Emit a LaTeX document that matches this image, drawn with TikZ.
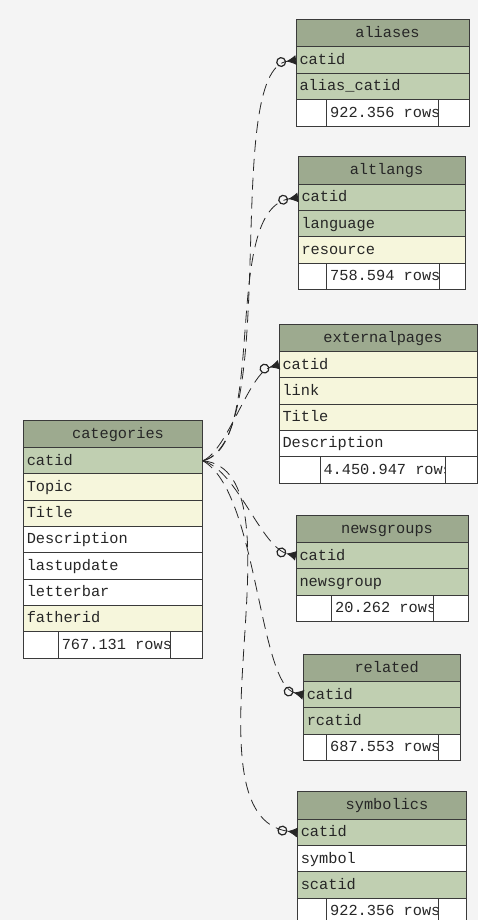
\documentclass[tikz,border=0pt]{standalone}
\usepackage{fontspec}
\newfontfamily\tabfont{Liberation Mono}
\usetikzlibrary{positioning,arrows.meta}

\definecolor{paper}{HTML}{F4F4F4}
\definecolor{headcol}{HTML}{9DAA8F}
\definecolor{keycol}{HTML}{C0CFB1}
\definecolor{txtcol}{HTML}{F6F6DC}
\definecolor{frame}{HTML}{3A3A3A}

\tikzset{
	cell/.style={draw=frame, line width=0.9pt, outer sep=0pt, inner xsep=3.5pt, inner ysep=0pt,
		text height=11pt, text depth=2.5pt, text=black!85,
		font=\tabfont\fontsize{15.3pt}{18pt}\selectfont, execute at begin node={\spaceskip=0.6em\relax}},
	head/.style={cell, fill=headcol, minimum height=27.6pt, align=center, execute at begin node={\hspace*{10pt}}},
	keyfld/.style={cell, fill=keycol, minimum height=26.3pt, align=left},
	txtfld/.style={cell, fill=txtcol, minimum height=26.3pt, align=left},
	plainfld/.style={cell, fill=white, minimum height=26.3pt, align=left},
	foot/.style={cell, fill=white, minimum height=26.6pt},
	count/.style 2 args={cell, fill=white, minimum height=26.6pt, text width=#1,
		path picture={\node[cell, draw=none, fill=none, anchor=west, text width=150pt]
			at (path picture bounding box.west) {#2};}},
	rel/.style={dash pattern=on 12pt off 7pt, line width=0.8pt, draw=black!85,
		-{Circle[open, length=10pt, width=10pt, line width=1.2pt] Latex[reversed, length=10pt, width=10pt]}},
}

\begin{document}
\begin{tikzpicture}[x=1pt, y=-1pt]
	\fill[paper] (0,0) rectangle (478,920);
	\useasboundingbox (0,0) rectangle (478,920);

	\begin{scope}[every node/.append style={text width=166pt}]
		\node[head, anchor=north west] (aliases) at (296,19.3) {aliases};
		\node[keyfld, below=0pt of aliases] (aliases-catid) {catid};
		\node[keyfld, below=0pt of aliases-catid] (aliases-aliascatid) {alias\_catid};
		\node[foot, below=0pt of aliases-aliascatid] (aliases-foot) {};
		\node[count={104.3pt}{922.356 rows}, anchor=north west] (aliases-count) at ([xshift=30.7pt]aliases-foot.north west) {};
	\end{scope}

	\begin{scope}[every node/.append style={text width=160pt}]
		\node[head, anchor=north west] (altlangs) at (298,156.7) {altlangs};
		\node[keyfld, below=0pt of altlangs] (altlangs-catid) {catid};
		\node[keyfld, below=0pt of altlangs-catid] (altlangs-language) {language};
		\node[txtfld, below=0pt of altlangs-language] (altlangs-resource) {resource};
		\node[foot, below=0pt of altlangs-resource] (altlangs-foot) {};
		\node[count={105.3pt}{758.594 rows}, anchor=north west] (altlangs-count) at ([xshift=28.7pt]altlangs-foot.north west) {};
	\end{scope}

	\begin{scope}[every node/.append style={text width=191pt}]
		\node[head, anchor=north west] (externalpages) at (279,324) {externalpages};
		\node[txtfld, below=0pt of externalpages] (externalpages-catid) {catid};
		\node[txtfld, below=0pt of externalpages-catid] (externalpages-link) {link};
		\node[txtfld, below=0pt of externalpages-link] (externalpages-title) {Title};
		\node[plainfld, below=0pt of externalpages-title] (externalpages-description) {Description};
		\node[foot, below=0pt of externalpages-description] (externalpages-foot) {};
		\node[count={118.7pt}{4.450.947 rows}, anchor=north west] (externalpages-count) at ([xshift=41pt]externalpages-foot.north west) {};
	\end{scope}

	\begin{scope}[every node/.append style={text width=172.4pt}]
		\node[head, anchor=north west] (categories) at (23.3,420) {categories};
		\node[keyfld, below=0pt of categories] (categories-catid) {catid};
		\node[txtfld, below=0pt of categories-catid] (categories-topic) {Topic};
		\node[txtfld, below=0pt of categories-topic] (categories-title) {Title};
		\node[plainfld, below=0pt of categories-title] (categories-description) {Description};
		\node[plainfld, below=0pt of categories-description] (categories-lastupdate) {lastupdate};
		\node[plainfld, below=0pt of categories-lastupdate] (categories-letterbar) {letterbar};
		\node[txtfld, below=0pt of categories-letterbar] (categories-fatherid) {fatherid};
		\node[foot, below=0pt of categories-fatherid] (categories-foot) {};
		\node[count={105.4pt}{767.131 rows}, anchor=north west] (categories-count) at ([xshift=35pt]categories-foot.north west) {};
	\end{scope}

	\begin{scope}[every node/.append style={text width=165pt}]
		\node[head, anchor=north west] (newsgroups) at (296,515) {newsgroups};
		\node[keyfld, below=0pt of newsgroups] (newsgroups-catid) {catid};
		\node[keyfld, below=0pt of newsgroups-catid] (newsgroups-newsgroup) {newsgroup};
		\node[foot, below=0pt of newsgroups-newsgroup] (newsgroups-foot) {};
		\node[count={94.3pt}{20.262 rows}, anchor=north west] (newsgroups-count) at ([xshift=35.7pt]newsgroups-foot.north west) {};
	\end{scope}

	\begin{scope}[every node/.append style={text width=149.7pt}]
		\node[head, anchor=north west] (related) at (303.3,654) {related};
		\node[keyfld, below=0pt of related] (related-catid) {catid};
		\node[keyfld, below=0pt of related-catid] (related-rcatid) {rcatid};
		\node[foot, below=0pt of related-rcatid] (related-foot) {};
		\node[count={104.3pt}{687.553 rows}, anchor=north west] (related-count) at ([xshift=23.4pt]related-foot.north west) {};
	\end{scope}

	\begin{scope}[every node/.append style={text width=162.4pt}]
		\node[head, anchor=north west] (symbolics) at (297.3,791.7) {symbolics};
		\node[keyfld, below=0pt of symbolics] (symbolics-catid) {catid};
		\node[plainfld, below=0pt of symbolics-catid] (symbolics-symbol) {symbol};
		\node[keyfld, below=0pt of symbolics-symbol] (symbolics-scatid) {scatid};
		\node[foot, below=0pt of symbolics-scatid] (symbolics-foot) {};
		\node[count={104.3pt}{922.356 rows}, anchor=north west] (symbolics-count) at ([xshift=29.4pt]symbolics-foot.north west) {};
	\end{scope}

	\draw[rel] (categories-catid.east) .. controls +(80,-20) and +(-75,10) .. (aliases-catid.west);
	\draw[rel] (categories-catid.east) .. controls +(67,-15) and +(-78,12) .. (altlangs-catid.west);
	\draw[rel] (categories-catid.east) .. controls +(25,-10) and +(-30,8) .. (externalpages-catid.west);
	\draw[rel] (categories-catid.east) .. controls +(35,10) and +(-35,-8) .. (newsgroups-catid.west);
	\draw[rel] (categories-catid.east) .. controls +(55,30) and +(-45,-10) .. (related-catid.west);
	\draw[rel] (categories-catid.east) .. controls +(107,10) and +(-120,-15) .. (symbolics-catid.west);
\end{tikzpicture}
\end{document}
